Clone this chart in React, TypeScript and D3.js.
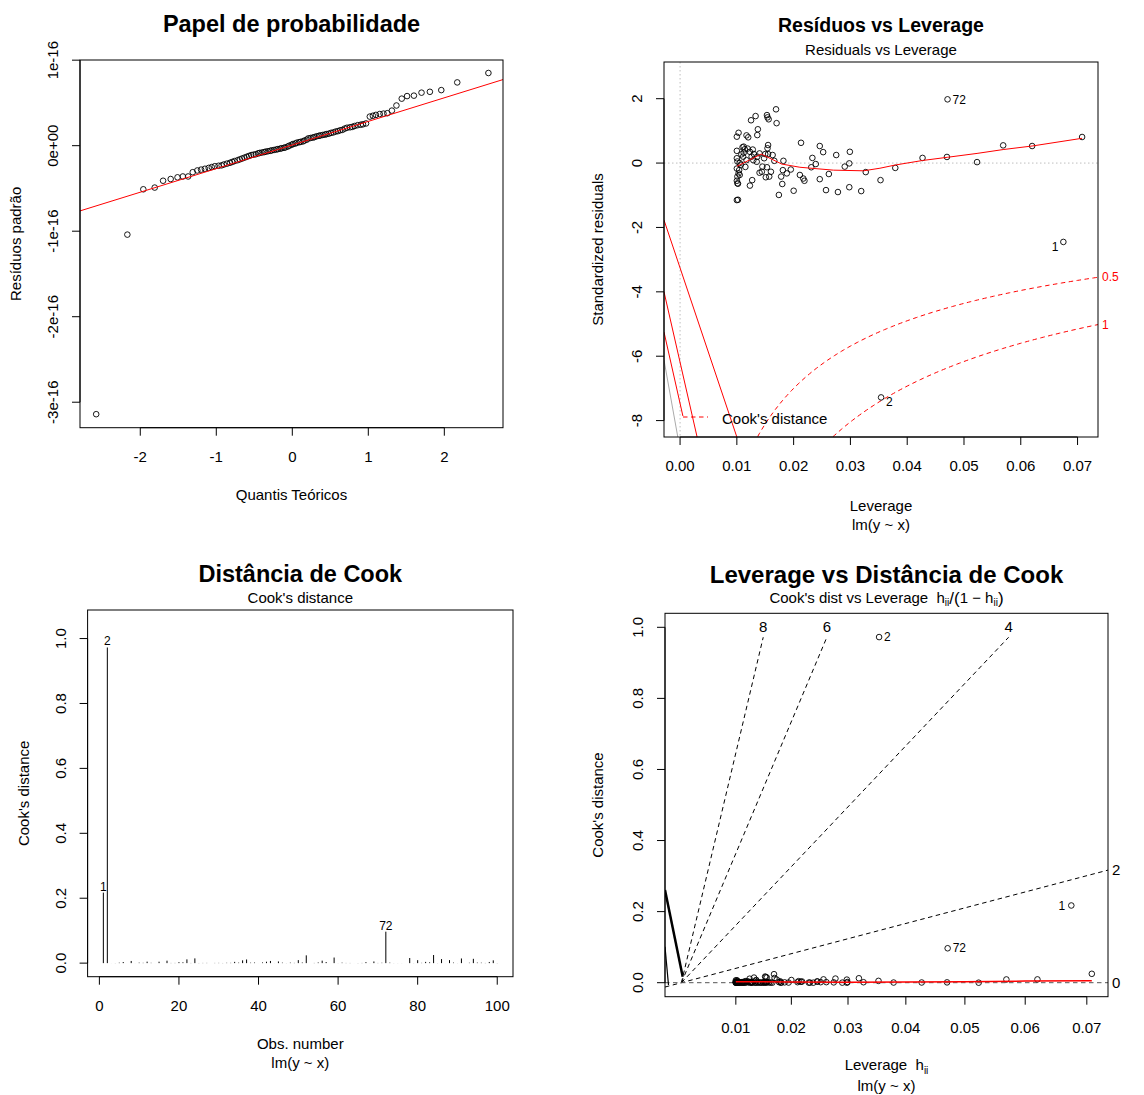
import React from "react";
import * as d3 from "d3";

const FONT = "Liberation Sans, Arial, Helvetica, sans-serif";

// ---------- Papel de probabilidade (qqnorm dos resíduos, unidades de 1e-16) ----------
const qqTheoretical = [
  -2.58, -2.17, -1.96, -1.81, -1.7, -1.6, -1.51, -1.44, -1.37, -1.31, -1.25, -1.2, -1.15, -1.1, -1.06, -1.02, -0.97,
  -0.93, -0.9, -0.86, -0.82, -0.79, -0.76, -0.72, -0.69, -0.66, -0.63, -0.6, -0.57, -0.54, -0.51, -0.48, -0.45, -0.43,
  -0.4, -0.37, -0.35, -0.32, -0.29, -0.27, -0.24, -0.21, -0.19, -0.16, -0.14, -0.11, -0.09, -0.06, -0.04, -0.01, 0.01,
  0.04, 0.06, 0.09, 0.11, 0.14, 0.16, 0.19, 0.21, 0.24, 0.27, 0.29, 0.32, 0.35, 0.37, 0.4, 0.43, 0.45, 0.48, 0.51, 0.54,
  0.57, 0.6, 0.63, 0.66, 0.69, 0.72, 0.76, 0.79, 0.82, 0.86, 0.9, 0.93, 0.97, 1.02, 1.06, 1.1, 1.15, 1.2, 1.25, 1.31,
  1.37, 1.44, 1.51, 1.6, 1.7, 1.81, 1.96, 2.17, 2.58,
];
const qqResiduals = [
  -3.14, -1.04, -0.51, -0.49, -0.41, -0.39, -0.37, -0.36, -0.36, -0.31, -0.29, -0.28, -0.27, -0.26, -0.25, -0.24, -0.235,
  -0.23, -0.22, -0.21, -0.2, -0.19, -0.18, -0.17, -0.16, -0.15, -0.14, -0.13, -0.12, -0.11, -0.105, -0.1, -0.09, -0.085,
  -0.08, -0.075, -0.07, -0.065, -0.06, -0.055, -0.05, -0.045, -0.04, -0.035, -0.03, -0.025, -0.02, -0.01, 0.0, 0.01,
  0.02, 0.025, 0.035, 0.04, 0.045, 0.05, 0.06, 0.07, 0.085, 0.09, 0.095, 0.1, 0.11, 0.115, 0.12, 0.125, 0.13, 0.135,
  0.14, 0.15, 0.155, 0.165, 0.17, 0.18, 0.185, 0.2, 0.21, 0.215, 0.22, 0.23, 0.24, 0.245, 0.25, 0.26, 0.34, 0.35, 0.36,
  0.37, 0.375, 0.38, 0.41, 0.47, 0.55, 0.58, 0.585, 0.62, 0.63, 0.65, 0.74, 0.85,
];
const qqLineIntercept = 0.008;
const qqLineSlope = 0.276;
const qqXTicks = [-2, -1, 0, 1, 2];
const qqYTicks = [-3, -2, -1, 0, 1];
const qqYTickLabels = ["-3e-16", "-2e-16", "-1e-16", "0e+00", "1e-16"];

// ---------- observações do modelo lm(y ~ x), n = 100 ----------
const obsLeverage = [
  0.0675, 0.0354, 0.01, 0.0233, 0.011, 0.01, 0.0107, 0.01, 0.0145, 0.0252, 0.0101, 0.0103, 0.0188, 0.0117, 0.0117,
  0.0298, 0.02, 0.0112, 0.014, 0.0123, 0.0217, 0.0278, 0.0103, 0.0156, 0.0379, 0.0155, 0.01, 0.0239, 0.014, 0.0123,
  0.0181, 0.0114, 0.0275, 0.012, 0.01, 0.0174, 0.0125, 0.0157, 0.0127, 0.0523, 0.0102, 0.0213, 0.0102, 0.0115, 0.0136,
  0.0151, 0.0126, 0.0262, 0.0105, 0.0257, 0.0299, 0.0169, 0.0105, 0.016, 0.0101, 0.0137, 0.0219, 0.0129, 0.0153,
  0.0148, 0.0112, 0.0427, 0.0144, 0.0182, 0.0108, 0.015, 0.0246, 0.01, 0.0353, 0.013, 0.0128, 0.0471, 0.0211, 0.0111,
  0.029, 0.0153, 0.0101, 0.0154, 0.0104, 0.0569, 0.047, 0.018, 0.0155, 0.0708, 0.0136, 0.0319, 0.0166, 0.062, 0.0154,
  0.0231, 0.0133, 0.0135, 0.0119, 0.017, 0.0178, 0.0327, 0.0163, 0.0246, 0.0298, 0.0195,
];
const obsStdResid = [
  -2.45, -7.28, 0.15, 0.16, 0.49, 0.82, -0.05, -1.15, -0.11, 0.34, -0.42, 0.94, -0.32, 0.09, 0.86, -0.01, -0.86, 0.32,
  0.3, -0.7, -0.48, -0.9, -0.32, 1.36, -0.15, 0.28, 0.38, -0.03, -0.3, 0.35, -0.22, 0.43, 0.25, 0.8, -0.55, -0.99, 1.33,
  -0.42, -0.53, 0.03, -0.64, 0.63, -1.14, -0.12, 0.87, -0.44, 0.2, -0.34, -0.37, -0.84, 0.35, 1.67, 0.0, -0.27, -0.63,
  1.05, -0.55, 0.09, 1.49, 0.15, 0.51, 0.16, -0.27, 0.07, 0.27, 0.28, -0.5, -0.17, -0.53, 0.28, 0.42, 1.98, -0.37, 0.2,
  -0.11, -0.13, 0.05, 1.42, -0.22, 0.55, 0.19, -0.65, 0.56, 0.81, 0.2, -0.87, 0.07, 0.53, 0.46, -0.13, 1.46, 0.04,
  0.45, 1.24, -0.42, -0.28, 0.25, 0.53, -0.75, -0.2,
];
const labelledObs = [1, 2, 72];

// curva suavizada (vermelha) de Residuals vs Leverage
const residSmoothLev = [0.01, 0.0143, 0.0179, 0.0211, 0.027, 0.0323, 0.0352, 0.0379, 0.0427, 0.0471, 0.0523, 0.0569, 0.062, 0.0708];
const residSmoothVal = [-0.1, 0.28, -0.03, -0.13, -0.22, -0.24, -0.16, -0.06, 0.08, 0.18, 0.3, 0.42, 0.53, 0.77];
const cookLevels = [0.5, 1];
const rvlXTicks = [0, 0.01, 0.02, 0.03, 0.04, 0.05, 0.06, 0.07];
const rvlYTicks = [-8, -6, -4, -2, 0, 2];
// segmentos soltos no canto esquerdo do painel (leverage, resíduo)
const rvlStrayRed = [
  [[-0.00283, -1.77], [0.01, -8.51]],
  [[-0.00283, -4.0], [0.003, -8.51]],
  [[-0.00283, -5.25], [0.0005, -7.86]],
];
const rvlStrayGrey = [[[-0.00283, -6.12], [-0.0004, -8.51]]];

// Distância de Cook
const cookXTicks = [0, 20, 40, 60, 80, 100];
const cookYTicks = [0, 0.2, 0.4, 0.6, 0.8, 1.0];
const cookYTickLabels = ["0.0", "0.2", "0.4", "0.6", "0.8", "1.0"];

// Leverage vs Distância de Cook
const clXTicks = [0.01, 0.02, 0.03, 0.04, 0.05, 0.06, 0.07];
const cookSmoothLev = [0.01, 0.02, 0.03, 0.04, 0.05, 0.06, 0.0708];
const cookSmoothVal = [0.003, 0.002, 0.0015, 0.002, 0.003, 0.0045, 0.0058];
const contourSlopes = [8, 6, 4, 2, 0];
const contourTop = 0.972;
const clStrayThick = [[-0.00305, 0.261], [0.00024, 0.0169]];
const clStrayThin = [[-0.00305, 0.101], [-0.0024, -0.0065]];

const cookOf = (h: number, r: number) => (r * r * h) / (2 * (1 - h));
const cookD = obsLeverage.map((h, i) => cookOf(h, obsStdResid[i]));
const hToG = (h: number) => h / (1 - h);

type Box = { left: number; right: number; top: number; bottom: number };
const P1: Box = { left: 80, right: 503, top: 60, bottom: 427.7 };
const P2: Box = { left: 664, right: 1098, top: 62, bottom: 437 };
const P3: Box = { left: 87.6, right: 513, top: 610, bottom: 976.7 };
const P4: Box = { left: 665, right: 1108, top: 613.3, bottom: 996.7 };

const PT_R = 2.8;

const cx = (b: Box) => (b.left + b.right) / 2;
const cy = (b: Box) => (b.top + b.bottom) / 2;

function Frame({ b }: { b: Box }) {
  return <rect x={b.left} y={b.top} width={b.right - b.left} height={b.bottom - b.top} fill="none" stroke="#000" strokeWidth={1} />;
}

function Clip({ id, b }: { id: string; b: Box }) {
  return (
    <defs>
      <clipPath id={id}>
        <rect x={b.left} y={b.top} width={b.right - b.left} height={b.bottom - b.top} />
      </clipPath>
    </defs>
  );
}

function AxisBottom({ scale, y, ticks, labels, off = 29 }: any) {
  const xs = ticks.map((t: number) => scale(t));
  return (
    <g>
      <line x1={xs[0]} x2={xs[xs.length - 1]} y1={y} y2={y} stroke="#000" />
      {xs.map((x: number, i: number) => (
        <g key={i}>
          <line x1={x} x2={x} y1={y} y2={y + 8} stroke="#000" />
          <text x={x} y={y + off} dy="0.35em" textAnchor="middle" fontSize={15}>
            {labels[i]}
          </text>
        </g>
      ))}
    </g>
  );
}

function AxisLeft({ scale, x, ticks, labels }: any) {
  const ys = ticks.map((t: number) => scale(t));
  return (
    <g>
      <line x1={x} x2={x} y1={ys[0]} y2={ys[ys.length - 1]} stroke="#000" />
      {ys.map((y: number, i: number) => (
        <g key={i}>
          <line x1={x - 8} x2={x} y1={y} y2={y} stroke="#000" />
          <text transform={`translate(${x - 27},${y}) rotate(-90)`} dy="0.35em" textAnchor="middle" fontSize={15}>
            {labels[i]}
          </text>
        </g>
      ))}
    </g>
  );
}

function YLabel({ x, y, children }: any) {
  return (
    <text transform={`translate(${x},${y}) rotate(-90)`} dy="0.35em" textAnchor="middle" fontSize={15}>
      {children}
    </text>
  );
}

function QQPanel() {
  const b = P1;
  const x = d3.scaleLinear().domain([-2.793, 2.772]).range([b.left, b.right]);
  const y = d3.scaleLinear().domain([-3.298, 1.002]).range([b.bottom, b.top]);
  const [x0, x1] = x.domain();
  return (
    <g>
      <Clip id="clip-qq" b={b} />
      {qqTheoretical.map((q, i) => (
        <circle key={i} cx={x(q)} cy={y(qqResiduals[i])} r={PT_R} fill="none" stroke="#000" strokeWidth={0.9} />
      ))}
      <line
        clipPath="url(#clip-qq)"
        x1={x(x0)}
        y1={y(qqLineIntercept + qqLineSlope * x0)}
        x2={x(x1)}
        y2={y(qqLineIntercept + qqLineSlope * x1)}
        stroke="#ff0000"
      />
      <Frame b={b} />
      <AxisBottom scale={x} y={b.bottom} ticks={qqXTicks} labels={qqXTicks.map(String)} />
      <AxisLeft scale={y} x={b.left} ticks={qqYTicks} labels={qqYTickLabels} />
      <text x={cx(b)} y={31.7} textAnchor="middle" fontSize={23.5} fontWeight="bold">
        Papel de probabilidade
      </text>
      <text x={cx(b)} y={495} dy="0.35em" textAnchor="middle" fontSize={15}>
        Quantis Teóricos
      </text>
      <YLabel x={16} y={cy(b)}>Resíduos padrão</YLabel>
    </g>
  );
}

function ResidLevPanel() {
  const b = P2;
  const x = d3.scaleLinear().domain([-0.00283, 0.0736]).range([b.left, b.right]);
  const y = d3.scaleLinear().domain([-8.51, 3.14]).range([b.bottom, b.top]);
  const xmax = x.domain()[1];
  const line = d3
    .line<[number, number]>()
    .x((d) => x(d[0]))
    .y((d) => y(d[1]));
  const hs = d3.range(0.0004, xmax, 0.0004).concat([xmax]);
  const contours = cookLevels.flatMap((D) => [
    hs.map((h) => [h, -Math.sqrt((2 * D * (1 - h)) / h)] as [number, number]),
    hs.map((h) => [h, Math.sqrt((2 * D * (1 - h)) / h)] as [number, number]),
  ]);
  const smooth = residSmoothLev.map((h, i) => [h, residSmoothVal[i]] as [number, number]);
  const labelOffsets: Record<number, { dx: number; dy: number; anchor: string }> = {
    1: { dx: -5, dy: 5, anchor: "end" },
    2: { dx: 5, dy: 4, anchor: "start" },
    72: { dx: 5, dy: 0, anchor: "start" },
  };
  return (
    <g>
      <Clip id="clip-rvl" b={b} />
      <g clipPath="url(#clip-rvl)">
        <line x1={b.left} x2={b.right} y1={y(0)} y2={y(0)} stroke="#bebebe" strokeDasharray="1.5,2.5" />
        <line x1={x(0)} x2={x(0)} y1={b.top} y2={b.bottom} stroke="#bebebe" strokeDasharray="1.5,2.5" />
        {rvlStrayGrey.map((s, i) => (
          <path key={"g" + i} d={line(s as [number, number][]) || ""} stroke="#aaaaaa" fill="none" />
        ))}
        {rvlStrayRed.map((s, i) => (
          <path key={"r" + i} d={line(s as [number, number][]) || ""} stroke="#ff0000" fill="none" />
        ))}
        {contours.map((c, i) => (
          <path key={i} d={line(c) || ""} stroke="#ff0000" fill="none" strokeDasharray="4.5,3.5" />
        ))}
        {obsLeverage.map((h, i) => (
          <circle key={i} cx={x(h)} cy={y(obsStdResid[i])} r={PT_R} fill="none" stroke="#000" strokeWidth={0.9} />
        ))}
        <path d={line(smooth) || ""} stroke="#ff0000" fill="none" />
      </g>
      {labelledObs.map((o) => {
        const lo = labelOffsets[o];
        return (
          <text key={o} x={x(obsLeverage[o - 1]) + lo.dx} y={y(obsStdResid[o - 1]) + lo.dy} dy="0.35em" textAnchor={lo.anchor} fontSize={12}>
            {o}
          </text>
        );
      })}
      {cookLevels.map((D) => (
        <text key={D} x={b.right + 4} y={y(-Math.sqrt((2 * D * (1 - xmax)) / xmax))} dy="0.35em" fontSize={12} fill="#ff0000">
          {D}
        </text>
      ))}
      <line x1={b.left + 19} x2={b.left + 44} y1={b.bottom - 20} y2={b.bottom - 20} stroke="#ff0000" strokeDasharray="4.5,3.5" />
      <text x={b.left + 58} y={b.bottom - 18} dy="0.35em" fontSize={15}>
        Cook's distance
      </text>
      <Frame b={b} />
      <AxisBottom scale={x} y={b.bottom} ticks={rvlXTicks} labels={rvlXTicks.map((t) => t.toFixed(2))} />
      <AxisLeft scale={y} x={b.left} ticks={rvlYTicks} labels={rvlYTicks.map(String)} />
      <text x={cx(b)} y={31.7} textAnchor="middle" fontSize={19.5} fontWeight="bold">
        Resíduos vs Leverage
      </text>
      <text x={cx(b)} y={55} textAnchor="middle" fontSize={15}>
        Residuals vs Leverage
      </text>
      <text x={cx(b)} y={506} dy="0.35em" textAnchor="middle" fontSize={15}>
        Leverage
      </text>
      <text x={cx(b)} y={525} dy="0.35em" textAnchor="middle" fontSize={15}>
        lm(y ~ x)
      </text>
      <YLabel x={598} y={cy(b)}>Standardized residuals</YLabel>
    </g>
  );
}

function CookPanel() {
  const b = P3;
  const x = d3.scaleLinear().domain([-2.96, 103.96]).range([b.left, b.right]);
  const y = d3.scaleLinear().domain([-0.0418, 1.088]).range([b.bottom, b.top]);
  return (
    <g>
      {cookD.map((d, i) => (
        <line key={i} x1={x(i + 1)} x2={x(i + 1)} y1={y(0)} y2={y(d)} stroke="#000" strokeWidth={1} />
      ))}
      {labelledObs.map((o) => (
        <text key={o} x={x(o)} y={y(cookD[o - 1]) - 2} textAnchor="middle" fontSize={12}>
          {o}
        </text>
      ))}
      <Frame b={b} />
      <AxisBottom scale={x} y={b.bottom} ticks={cookXTicks} labels={cookXTicks.map(String)} />
      <AxisLeft scale={y} x={b.left} ticks={cookYTicks} labels={cookYTickLabels} />
      <text x={cx(b)} y={582.3} textAnchor="middle" fontSize={23.5} fontWeight="bold">
        Distância de Cook
      </text>
      <text x={cx(b)} y={603.3} textAnchor="middle" fontSize={15}>
        Cook's distance
      </text>
      <text x={cx(b)} y={1044} dy="0.35em" textAnchor="middle" fontSize={15}>
        Obs. number
      </text>
      <text x={cx(b)} y={1063} dy="0.35em" textAnchor="middle" fontSize={15}>
        lm(y ~ x)
      </text>
      <YLabel x={24} y={cy(b)}>Cook's distance</YLabel>
    </g>
  );
}

function CookLevPanel() {
  const b = P4;
  const x = d3.scaleLinear().domain([-0.00305, 0.0792]).range([b.left, b.right]);
  const y = d3.scaleLinear().domain([-0.0394, 1.0394]).range([b.bottom, b.top]);
  const [gmin, gmax] = x.domain();
  const line = d3
    .line<number[]>()
    .x((d) => x(d[0]))
    .y((d) => y(d[1]));
  const smooth = cookSmoothLev.map((h, i) => [hToG(h), cookSmoothVal[i]]);
  const labelOffsets: Record<number, { dx: number; anchor: string }> = {
    1: { dx: -6, anchor: "end" },
    2: { dx: 5, anchor: "start" },
    72: { dx: 5, anchor: "start" },
  };
  return (
    <g>
      <Clip id="clip-cl" b={b} />
      <g clipPath="url(#clip-cl)">
        {contourSlopes.map((s) => {
          const b2 = s * s;
          const toTop = b2 * gmax > contourTop;
          const pts = toTop ? [[0, 0], [contourTop / b2, contourTop]] : [[gmin, b2 * gmin], [gmax, b2 * gmax]];
          return <path key={s} d={line(pts) || ""} stroke={s === 0 ? "#555" : "#000"} fill="none" strokeDasharray="4.5,3.5" />;
        })}
        <path d={line(clStrayThick) || ""} stroke="#000" strokeWidth={2.5} fill="none" />
        <path d={line(clStrayThin) || ""} stroke="#000" strokeWidth={1.2} fill="none" />
        {obsLeverage.map((h, i) => (
          <circle key={i} cx={x(hToG(h))} cy={y(cookD[i])} r={PT_R} fill="none" stroke="#000" strokeWidth={0.9} />
        ))}
        <path d={line(smooth) || ""} stroke="#ff0000" strokeWidth={1.5} fill="none" />
      </g>
      {contourSlopes.map((s) => {
        const b2 = s * s;
        const toTop = b2 * gmax > contourTop;
        return toTop ? (
          <text key={s} x={x(contourTop / b2)} y={y(contourTop) - 5} textAnchor="middle" fontSize={15}>
            {s}
          </text>
        ) : (
          <text key={s} x={b.right + 4} y={y(b2 * gmax)} dy="0.35em" fontSize={15}>
            {s}
          </text>
        );
      })}
      {labelledObs.map((o) => {
        const lo = labelOffsets[o];
        return (
          <text key={o} x={x(hToG(obsLeverage[o - 1])) + lo.dx} y={y(cookD[o - 1])} dy="0.35em" textAnchor={lo.anchor} fontSize={12}>
            {o}
          </text>
        );
      })}
      <Frame b={b} />
      <AxisBottom scale={(h: number) => x(hToG(h))} y={b.bottom} ticks={clXTicks} labels={clXTicks.map((t) => t.toFixed(2))} off={31} />
      <AxisLeft scale={y} x={b.left} ticks={cookYTicks} labels={cookYTickLabels} />
      <text x={cx(b)} y={583.3} textAnchor="middle" fontSize={24} fontWeight="bold">
        Leverage vs Distância de Cook
      </text>
      <text x={cx(b)} y={603} textAnchor="middle" fontSize={15} style={{ whiteSpace: "pre" }}>
        {"Cook's dist vs Leverage  h"}
        <tspan fontSize={10} dy={3}>ii</tspan>
        <tspan fontSize={17} dy={-2}>{"/("}</tspan>
        <tspan fontSize={15} dy={-1}>{"1 \u2212 h"}</tspan>
        <tspan fontSize={10} dy={3}>ii</tspan>
        <tspan fontSize={17} dy={-2}>)</tspan>
      </text>
      <text x={cx(b)} y={1065} dy="0.35em" textAnchor="middle" fontSize={15} style={{ whiteSpace: "pre" }}>
        {"Leverage  h"}
        <tspan fontSize={10} dy={4}>ii</tspan>
      </text>
      <text x={cx(b)} y={1086} dy="0.35em" textAnchor="middle" fontSize={15}>
        lm(y ~ x)
      </text>
      <YLabel x={598} y={cy(b)}>Cook's distance</YLabel>
    </g>
  );
}

export default function App() {
  return (
    <svg
      width={1144}
      height={1095}
      viewBox="0 0 1144 1095"
      style={{ position: "absolute", left: 0, top: 0, background: "#fff" }}
      fontFamily={FONT}
    >
      <rect width={1144} height={1095} fill="#fff" />
      <QQPanel />
      <ResidLevPanel />
      <CookPanel />
      <CookLevPanel />
    </svg>
  );
}
